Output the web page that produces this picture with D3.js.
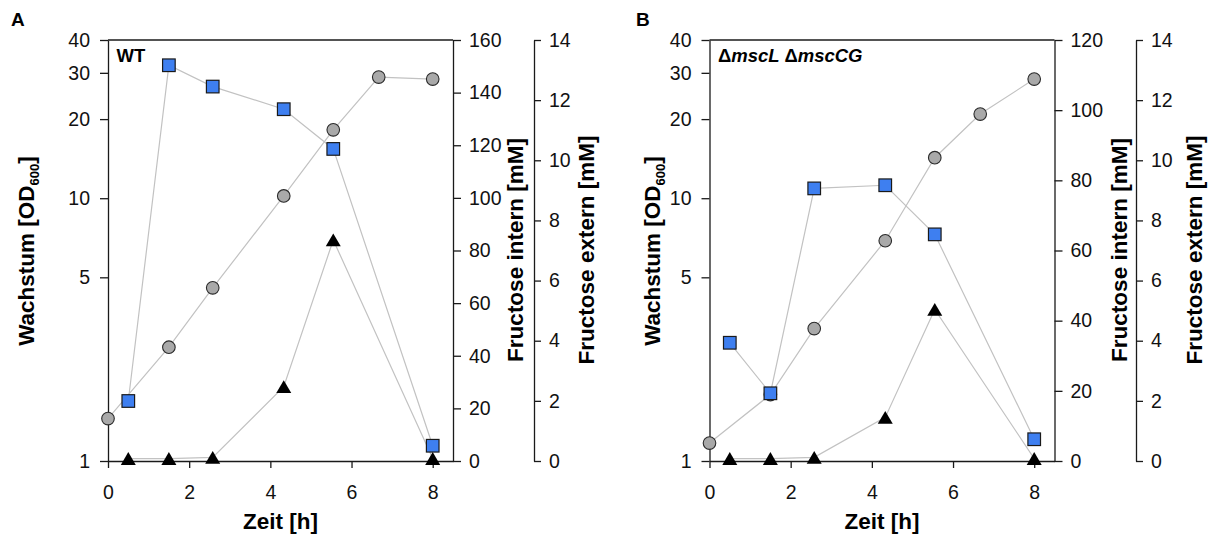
<!DOCTYPE html>
<html><head><meta charset="utf-8">
<script src="https://cdn.jsdelivr.net/npm/d3@7"></script>
<style>body{margin:0;background:#fff} text{font-family:"Liberation Sans",Arial,sans-serif}</style>
</head><body><svg id="c" width="1212" height="538"></svg>
<script>
// ---- data ----
const growthTime   = [0, 1.5, 2.58, 4.33, 5.55, 6.67, 8];
const fructoseTime = [0.5, 1.5, 2.58, 4.33, 5.55, 8];
const odWT      = [1.45, 2.71, 4.56, 10.2, 18.2, 28.9, 28.4];
const internWT  = [22.8, 150.4, 142.3, 133.7, 118.6, 5.8];
const externWT  = [0.08, 0.08, 0.12, 2.47, 7.35, 0.08];
const odMut     = [1.17, 1.79, 3.19, 6.89, 14.26, 20.9, 28.4];
const internMut = [33.7, 19.3, 77.7, 78.6, 64.6, 6.2];
const externMut = [0.08, 0.08, 0.12, 1.45, 5.04, 0.08];
const xTicks = [0, 2, 4, 6, 8];
const odTicks = [1, 5, 10, 20, 30, 40];
const internTicksWT = [0, 20, 40, 60, 80, 100, 120, 140, 160];
const internTicksMut = [0, 20, 40, 60, 80, 100, 120];
const externTicks = [0, 2, 4, 6, 8, 10, 12, 14];
const panelLetters = ["A", "B"];
const strainLabels = ["WT", "\u0394mscL \u0394mscCG"];

const svg = d3.select("#c");
const TOP = 40, BOTTOM = 461;
const AX = "#1a1a1a";
const TICK_FS = 19.5, TITLE_FS = 22.5;

function styleAxis(sel){
  sel.selectAll("path,line").attr("stroke", AX).attr("stroke-width", 1.3);
  sel.selectAll("text").attr("font-size", TICK_FS).attr("fill", "#111")
     .attr("font-family", '"Liberation Sans",Arial,sans-serif');
}

function panel(p){
  const g = svg.append("g");
  const x = d3.scaleLinear().domain([0, 8.5]).range([p.left, p.left + 345]);
  const yOD = d3.scaleLog().domain([1, 40]).range([BOTTOM, TOP]);
  const yIn = d3.scaleLinear().domain([0, p.internMax]).range([BOTTOM, TOP]);
  const yEx = d3.scaleLinear().domain([0, 14]).range([BOTTOM, TOP]);

  // top frame line
  g.append("line").attr("x1", x(0)).attr("x2", x(8.5)).attr("y1", yOD(40)).attr("y2", yOD(40))
    .attr("stroke", AX).attr("stroke-width", 1.3);

  // axes
  const ax = g.append("g").attr("transform", `translate(0,${BOTTOM})`)
    .call(d3.axisBottom(x).tickValues(xTicks).tickSizeInner(7).tickSizeOuter(0).tickPadding(17));
  styleAxis(ax);
  const ay = g.append("g").attr("transform", `translate(${x(0)},0)`)
    .call(d3.axisLeft(yOD).tickValues(odTicks).tickFormat(d3.format("d")).tickSizeInner(8).tickSizeOuter(0).tickPadding(10));
  styleAxis(ay);
  const ai = g.append("g").attr("transform", `translate(${x(8.5)},0)`)
    .call(d3.axisRight(yIn).tickValues(p.internTicks).tickSizeInner(8).tickSizeOuter(0).tickPadding(8));
  styleAxis(ai);
  const ae = g.append("g").attr("transform", `translate(${p.extX},0)`)
    .call(d3.axisRight(yEx).tickValues(externTicks).tickSizeInner(7).tickSizeOuter(0).tickPadding(8));
  styleAxis(ae);

  // connecting lines
  const lineStyle = s => s.attr("fill", "none").attr("stroke", "#c2c2c2").attr("stroke-width", 1.2);
  g.append("path").datum(p.od).call(lineStyle)
    .attr("d", d3.line().x((d, i) => x(growthTime[i])).y(d => yOD(d)));
  g.append("path").datum(p.intern).call(lineStyle)
    .attr("d", d3.line().x((d, i) => x(fructoseTime[i])).y(d => yIn(d)));
  g.append("path").datum(p.extern).call(lineStyle)
    .attr("d", d3.line().x((d, i) => x(fructoseTime[i])).y(d => yEx(d)));

  // markers
  g.selectAll(".c").data(p.od).enter().append("circle")
    .attr("cx", (d, i) => x(growthTime[i])).attr("cy", d => yOD(d)).attr("r", 6.3)
    .attr("fill", "#a9a9a9").attr("stroke", "#2a2a2a").attr("stroke-width", 1.1);
  g.selectAll(".s").data(p.intern).enter().append("rect")
    .attr("x", (d, i) => x(fructoseTime[i]) - 6.3).attr("y", d => yIn(d) - 6.3)
    .attr("width", 12.6).attr("height", 12.6)
    .attr("fill", "#3e7ff0").attr("stroke", "#1a1a1a").attr("stroke-width", 1.2);
  g.selectAll(".t").data(p.extern).enter().append("path")
    .attr("transform", (d, i) => `translate(${x(fructoseTime[i])},${yEx(d)})`)
    .attr("d", "M0,-6.5L7.5,6.3L-7.5,6.3Z").attr("fill", "#000");

  // titles
  g.append("text").attr("x", (x(0) + x(8.5)) / 2).attr("y", 529).attr("text-anchor", "middle")
    .attr("font-size", TITLE_FS).attr("font-weight", "bold").text("Zeit [h]");
  const lt = g.append("text").attr("transform", `translate(${p.leftTitleX},251) rotate(-90)`)
    .attr("text-anchor", "middle").attr("font-size", TITLE_FS).attr("font-weight", "bold");
  lt.append("tspan").text("Wachstum [OD");
  lt.append("tspan").attr("font-size", 13).attr("dy", 5).text("600");
  lt.append("tspan").attr("dy", -5).text("]");
  g.append("text").attr("transform", `translate(${p.inTitleX},250) rotate(-90)`)
    .attr("text-anchor", "middle").attr("font-size", TITLE_FS).attr("font-weight", "bold")
    .text("Fructose intern [mM]");
  g.append("text").attr("transform", `translate(${p.exTitleX},250) rotate(-90)`)
    .attr("text-anchor", "middle").attr("font-size", TITLE_FS).attr("font-weight", "bold")
    .text("Fructose extern [mM]");

  // panel letter and strain label
  g.append("text").attr("x", p.letterX).attr("y", 25.5).attr("font-size", 19).attr("font-weight", "bold")
    .text(p.letter);
  const sl = g.append("text").attr("x", x(0) + 8.5).attr("y", 62.3).attr("font-size", 18.5).attr("font-weight", "bold");
  if (p.italic) {
    sl.append("tspan").text("\u0394");
    sl.append("tspan").attr("font-style", "italic").text("mscL ");
    sl.append("tspan").text("\u0394");
    sl.append("tspan").attr("font-style", "italic").text("mscCG");
  } else sl.text(p.label);
}

panel({left: 108, extX: 534, internMax: 160, internTicks: internTicksWT,
  od: odWT, intern: internWT, extern: externWT,
  leftTitleX: 33.5, inTitleX: 522.5, exTitleX: 593.5,
  letter: panelLetters[0], letterX: 11, label: strainLabels[0], italic: false});
panel({left: 709.5, extX: 1136, internMax: 120, internTicks: internTicksMut,
  od: odMut, intern: internMut, extern: externMut,
  leftTitleX: 660, inTitleX: 1127, exTitleX: 1201.5,
  letter: panelLetters[1], letterX: 636, label: strainLabels[1], italic: true});
</script></body></html>
